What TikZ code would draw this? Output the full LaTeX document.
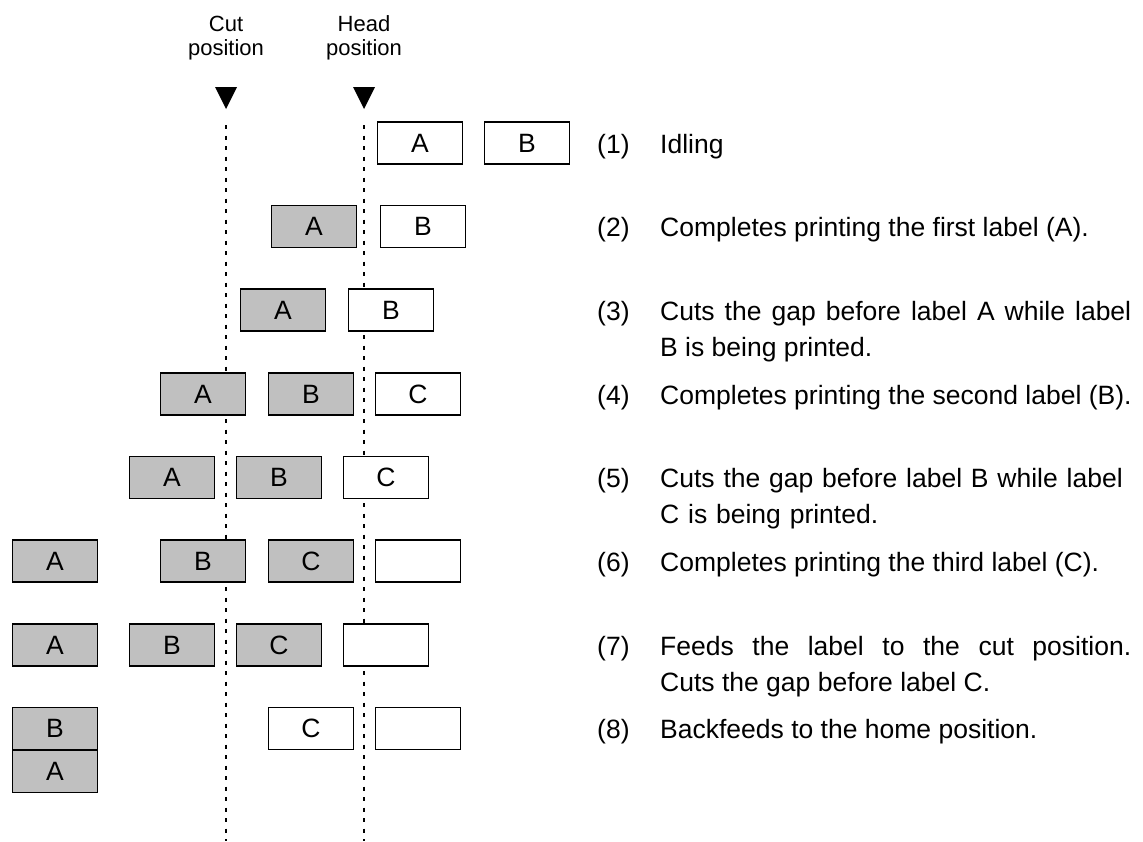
\documentclass[tikz,border=0pt]{standalone}
\usepackage{fontspec}
\setmainfont{Liberation Sans}
\definecolor{labelgray}{RGB}{192,192,192}

\begin{document}
\begin{tikzpicture}[x=1pt, y=-1pt,
	lbl/.style = {draw, line width=1.5pt, minimum width=85pt, minimum height=42pt, inner sep=0pt, font=\fontsize{26.5}{32}\selectfont},
	done/.style = {lbl, fill=labelgray},
	blank/.style = {lbl, fill=white},
	guide/.style = {line width=2pt, dash pattern=on 4pt off 6.5pt},
	num/.style = {anchor=base west, inner sep=0pt, font=\fontsize{26.5}{36}\selectfont},
	desc/.style = {num, text width=471pt, align=justify},
	place/.style = {anchor=base, inner sep=0pt, text width=120pt, align=center, font=\fontsize{22}{24}\selectfont}]

	\useasboundingbox (0,0) rectangle (1143,841);

	\node[place] (cutname) at (226,31) {Cut\\position};
	\node[place] (headname) at (364,31) {Head\\position};
	\fill (215,87) -- (237,87) -- (226,109) -- cycle;
	\fill (353,87) -- (375,87) -- (364,109) -- cycle;

	\coordinate (cuttop) at (226,125);
	\coordinate (cutbot) at (226,841);
	\coordinate (headtop) at (364,125);
	\coordinate (headbot) at (364,841);
	\draw[guide] (cuttop) -- (cutbot);
	\draw[guide] (headtop) -- (headbot);

	\node[blank] (A1) at (420,143) {A};
	\node[blank] (B1) at (527,143) {B};

	\node[done] (A2) at (314,226.5) {A};
	\node[blank] (B2) at (423,226.5) {B};

	\node[done] (A3) at (283,310) {A};
	\node[blank] (B3) at (391,310) {B};

	\node[done] (A4) at (203,394) {A};
	\node[done] (B4) at (311,394) {B};
	\node[blank] (C4) at (418,394) {C};

	\node[done] (A5) at (172,477.5) {A};
	\node[done] (B5) at (279,477.5) {B};
	\node[blank] (C5) at (386,477.5) {C};

	\node[done] (A6) at (55,561) {A};
	\node[done] (B6) at (203,561) {B};
	\node[done] (C6) at (311,561) {C};
	\node[blank] (D6) at (418,561) {};

	\node[done] (A7) at (55,645) {A};
	\node[done] (B7) at (172,645) {B};
	\node[done] (C7) at (279,645) {C};
	\node[blank] (D7) at (386,645) {};

	\node[done] (B8) at (55,728.5) {B};
	\node[done] (A8) at (55,771.5) {A};
	\node[blank] (C8) at (311,728.5) {C};
	\node[blank] (D8) at (418,728.5) {};

	\node[num] (n1) at (597,153) {(1)};
	\node[num] (t1) at (660,153) {Idling};
	\node[num] (n2) at (597,236.5) {(2)};
	\node[num] (t2) at (660,236.5) {Completes printing the first label (A).};
	\node[num] (n3) at (597,320) {(3)};
	\node[desc] (t3) at (660,320) {Cuts the gap before label A while label\linebreak B is being printed.};
	\node[num] (n4) at (597,404) {(4)};
	\node[num] (t4) at (660,404) {Completes printing the second label (B).};
	\node[num] (n5) at (597,487.5) {(5)};
	\node[desc, align=left] (t5) at (660,487.5) {Cuts the gap before label B while label\\C is being printed.};
	\node[num] (n6) at (597,571) {(6)};
	\node[num] (t6) at (660,571) {Completes printing the third label (C).};
	\node[num] (n7) at (597,655) {(7)};
	\node[desc] (t7) at (660,655) {Feeds the label to the cut position.\linebreak Cuts the gap before label C.};
	\node[num] (n8) at (597,738.5) {(8)};
	\node[num] (t8) at (660,738.5) {Backfeeds to the home position.};
\end{tikzpicture}
\end{document}
